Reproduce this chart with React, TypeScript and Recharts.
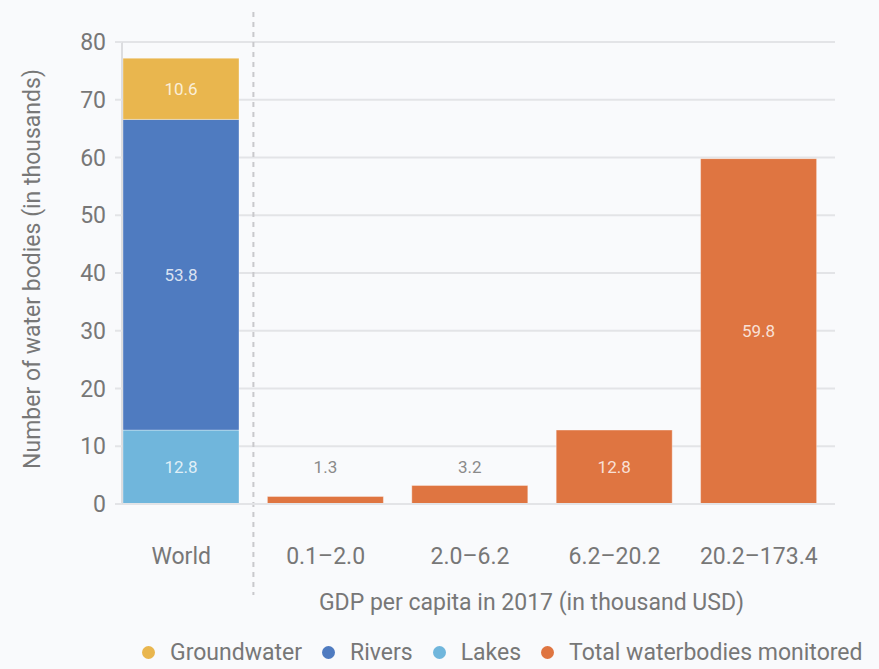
import React from 'react';
import {
  BarChart,
  Bar,
  XAxis,
  YAxis,
  CartesianGrid,
  Legend,
  LabelList,
  ReferenceLine,
} from 'recharts';

const categories = ['World', '0.1–2.0', '2.0–6.2', '6.2–20.2', '20.2–173.4'];
const groundwater = [10.6, null, null, null, null];
const rivers = [53.8, null, null, null, null];
const lakes = [12.8, null, null, null, null];
const totalMonitored = [null, 1.3, 3.2, 12.8, 59.8];
const yTicks = [0, 10, 20, 30, 40, 50, 60, 70, 80];

const seriesInfo = [
  { key: 'groundwater', name: 'Groundwater', color: '#e9b64e' },
  { key: 'rivers', name: 'Rivers', color: '#4f7bc0' },
  { key: 'lakes', name: 'Lakes', color: '#70b6dc' },
  { key: 'total', name: 'Total waterbodies monitored', color: '#df7541' },
];

const data = categories.map((c, i) => ({
  category: c,
  groundwater: groundwater[i],
  rivers: rivers[i],
  lakes: lakes[i],
  total: totalMonitored[i],
}));

const FONT = 'Roboto, "Noto Sans", sans-serif';
const TEXT = '#777';
const GRID = '#e3e4e7';
const FS = 23;

const innerLabel = (props: any) => {
  const { x, y, width, height, value } = props;
  if (value === null || value === undefined) return null;
  const cx = Number(x) + Number(width) / 2;
  const h = Number(height);
  const small = h < 40;
  const cy = small ? Number(y) + h - 37 : Number(y) + h / 2;
  return (
    <text
      x={cx}
      y={cy}
      textAnchor="middle"
      dominantBaseline="central"
      fontSize={17}
      fontFamily={FONT}
      fill={small ? '#8a8a8a' : 'rgba(255,255,255,0.8)'}
    >
      {Number(value).toFixed(1)}
    </text>
  );
};

const XTick = (props: any) => {
  const { x, y, payload } = props;
  return (
    <text x={x} y={y} dy={60} textAnchor="middle" fontSize={FS} fontFamily={FONT} fill={TEXT}>
      {payload.value}
    </text>
  );
};

const renderLegend = () => (
  <div
    style={{
      height: 34,
      display: 'flex',
      alignItems: 'center',
      paddingLeft: 142,
      fontFamily: FONT,
      fontSize: FS,
      color: TEXT,
      whiteSpace: 'nowrap',
    }}
  >
    {seriesInfo.map((s) => (
      <div key={s.key} style={{ display: 'flex', alignItems: 'center', marginRight: 20 }}>
        <span
          style={{
            display: 'inline-block',
            width: 13,
            height: 13,
            borderRadius: 7,
            background: s.color,
            marginRight: 15,
          }}
        />
        <span>{s.name}</span>
      </div>
    ))}
  </div>
);

const DashedDivider = (props: any) => {
  const { x1, x2, y1, y2 } = props;
  const top = Math.min(y1, y2);
  const bottom = Math.max(y1, y2);
  return (
    <line
      x1={x1}
      x2={x2}
      y1={top - 30}
      y2={bottom + 91}
      stroke="#c9c9cc"
      strokeWidth={2}
      strokeDasharray="5 5"
    />
  );
};

export default function App() {
  return (
    <div
      style={{
        position: 'absolute',
        left: 0,
        top: 0,
        width: 879,
        height: 669,
        background: '#f9fafc',
      }}
    >
      <BarChart
        width={879}
        height={669}
        data={data}
        margin={{ top: 42, right: 44, left: 0, bottom: 0 }}
        barSize={116}
      >
        <CartesianGrid vertical={false} stroke={GRID} strokeWidth={2} />
        <XAxis
          dataKey="category"
          height={131}
          padding={{ left: -13, right: 4 }}
          tickLine={false}
          tickSize={0}
          tickMargin={0}
          axisLine={{ stroke: GRID, strokeWidth: 2 }}
          tick={<XTick />}
          interval={0}
          label={{
            content: (p: any) => {
              const vb = p.viewBox || {};
              return (
                <text
                  x={vb.x + vb.width / 2 + 53}
                  y={vb.y + 106}
                  textAnchor="middle"
                  fontSize={FS}
                  fontFamily={FONT}
                  fill={TEXT}
                >
                  GDP per capita in 2017 (in thousand USD)
                </text>
              );
            },
          }}
        />
        <YAxis
          width={122}
          domain={[0, 80]}
          ticks={yTicks}
          tickSize={7}
          tickMargin={9}
          tickLine={{ stroke: GRID, strokeWidth: 2 }}
          axisLine={{ stroke: '#dcdde0', strokeWidth: 2 }}
          tick={{ fontSize: FS, fontFamily: FONT, fill: TEXT }}
          label={{
            content: (p: any) => {
              const vb = p.viewBox || {};
              const lx = vb.x + 32;
              const ly = vb.y + vb.height / 2 - 4;
              return (
                <text
                  x={lx}
                  y={ly}
                  transform={`rotate(-90 ${lx} ${ly})`}
                  textAnchor="middle"
                  dominantBaseline="central"
                  fontSize={FS}
                  fontFamily={FONT}
                  fill={TEXT}
                >
                  Number of water bodies (in thousands)
                </text>
              );
            },
          }}
        />
        <Legend
          verticalAlign="bottom"
          content={renderLegend}
          wrapperStyle={{ left: 0, width: 879 }}
        />
        <Bar dataKey="lakes" name="Lakes" stackId="s" fill="#70b6dc" stroke="rgba(255,255,255,0.35)" isAnimationActive={false}>
          <LabelList dataKey="lakes" content={innerLabel} />
        </Bar>
        <Bar dataKey="rivers" name="Rivers" stackId="s" fill="#4f7bc0" stroke="rgba(255,255,255,0.35)" isAnimationActive={false}>
          <LabelList dataKey="rivers" content={innerLabel} />
        </Bar>
        <Bar dataKey="groundwater" name="Groundwater" stackId="s" fill="#e9b64e" stroke="rgba(255,255,255,0.35)" isAnimationActive={false}>
          <LabelList dataKey="groundwater" content={innerLabel} />
        </Bar>
        <Bar dataKey="total" name="Total waterbodies monitored" stackId="s" fill="#df7541" stroke="rgba(255,255,255,0.35)" isAnimationActive={false}>
          <LabelList dataKey="total" content={innerLabel} />
        </Bar>
        <ReferenceLine
          x="World"
          position="end"
          ifOverflow="visible"
          shape={<DashedDivider />}
        />
      </BarChart>
    </div>
  );
}
